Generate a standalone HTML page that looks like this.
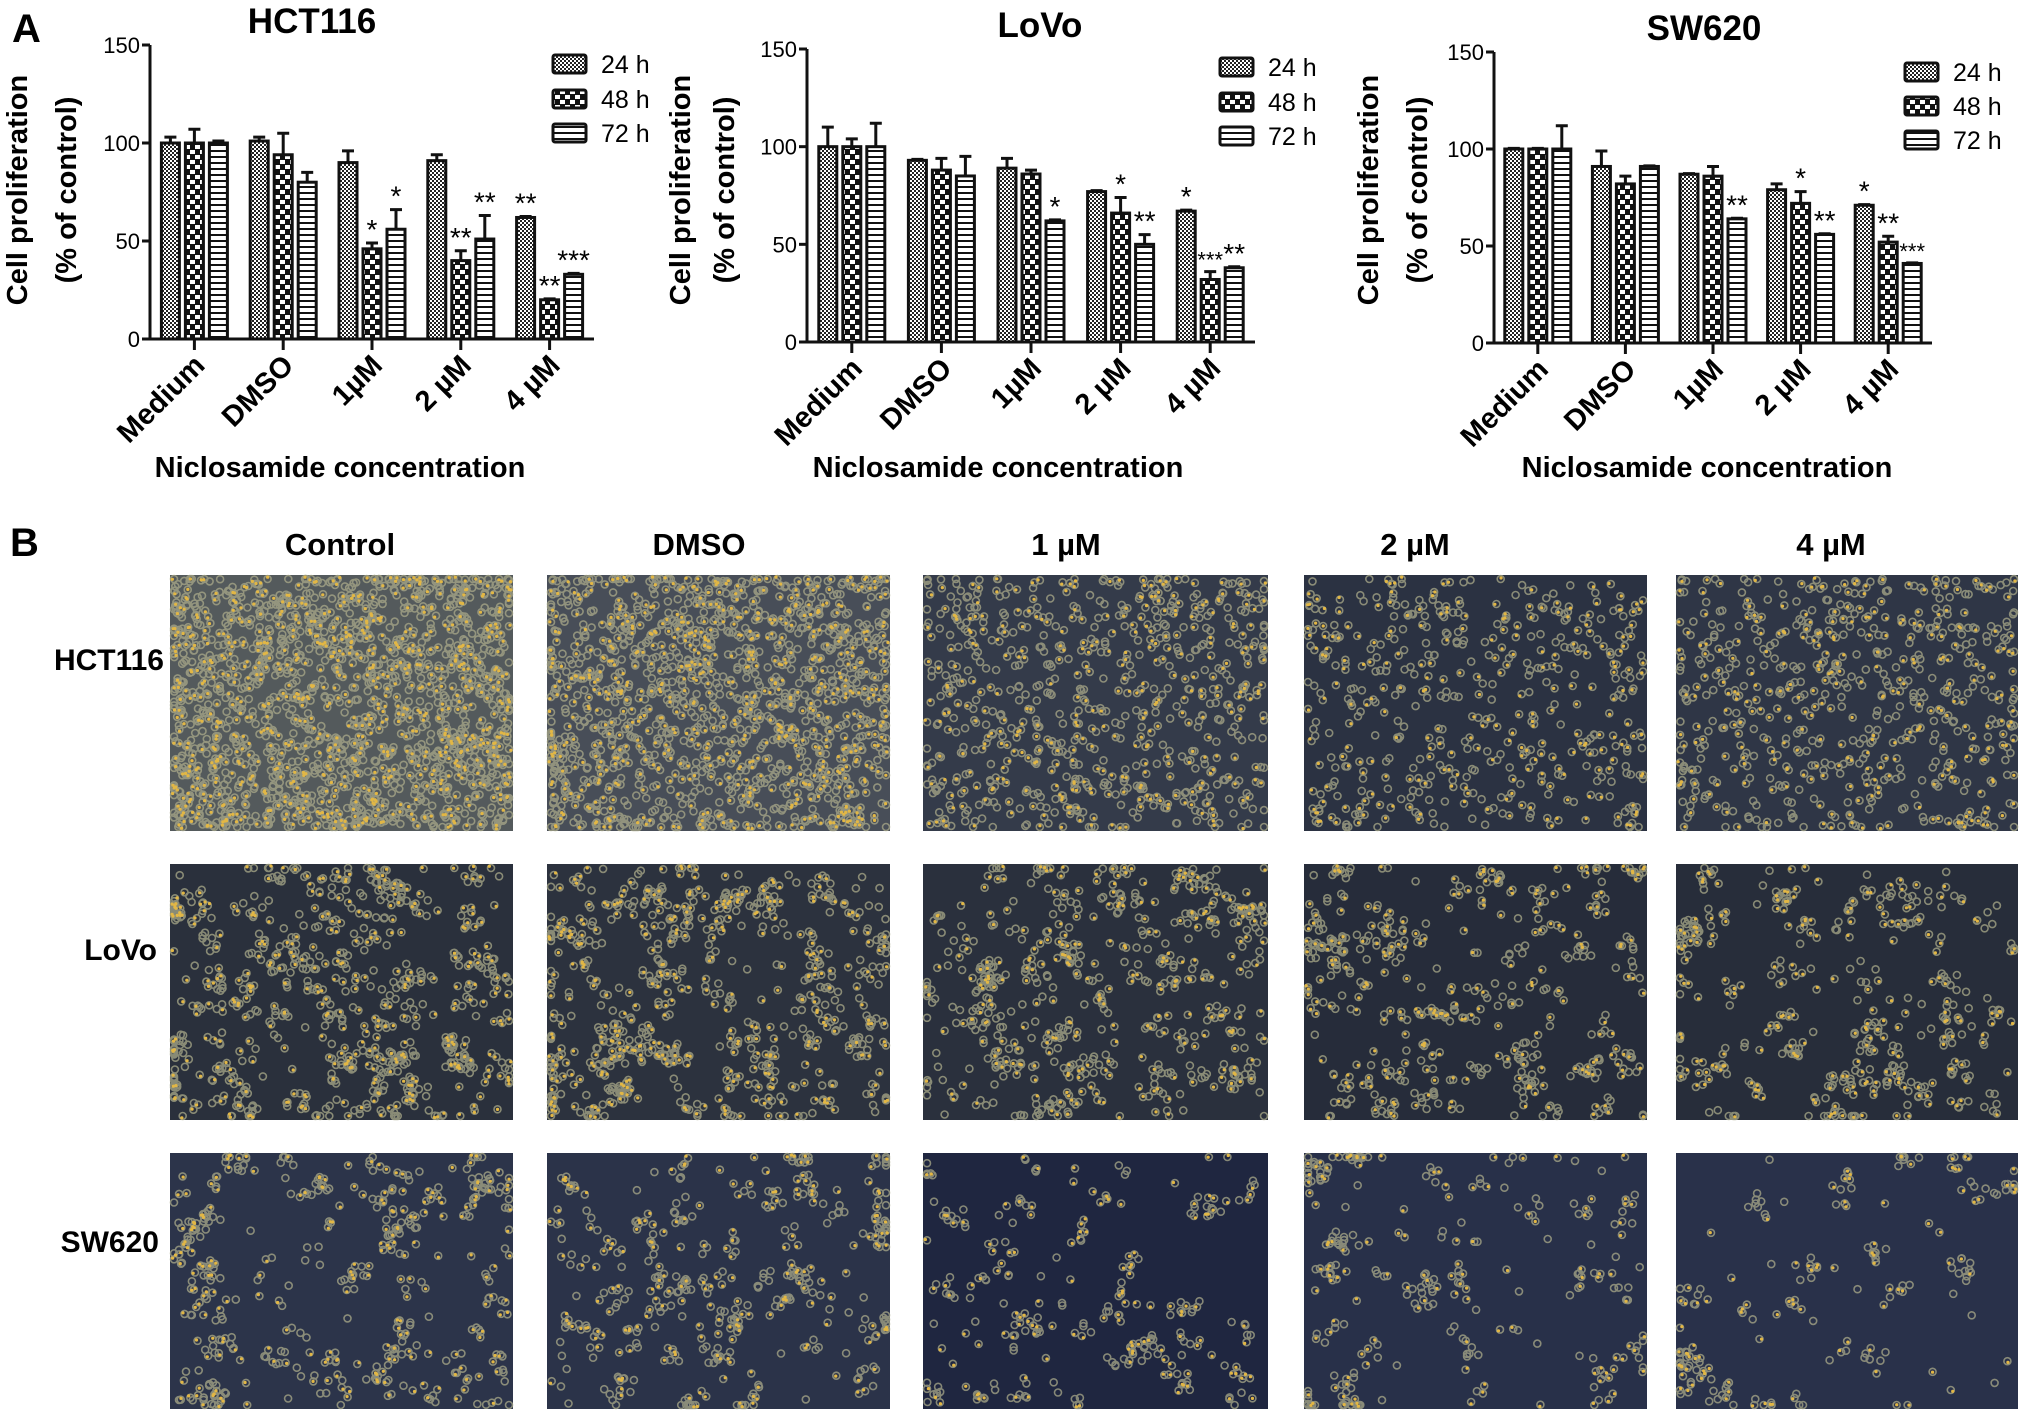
<!DOCTYPE html>
<html><head><meta charset="utf-8"><title>Niclosamide proliferation</title>
<style>
html,body{margin:0;padding:0;background:#fff;}
svg{display:block;font-family:"Liberation Sans",Arial,sans-serif;}
</style></head>
<body>
<svg id="fig" width="2031" height="1421" viewBox="0 0 2031 1421" xmlns="http://www.w3.org/2000/svg">
<defs>
<pattern id="p24" width="4" height="4" patternUnits="userSpaceOnUse"><rect width="4" height="4" fill="#fff"/><rect width="2" height="2" fill="#222"/><rect x="2" y="2" width="2" height="2" fill="#222"/></pattern>
<pattern id="p48" width="10" height="10" patternUnits="userSpaceOnUse"><rect width="10" height="10" fill="#111"/><rect x="0" y="0" width="5" height="4" fill="#fff"/><rect x="5" y="5" width="5" height="4" fill="#fff"/></pattern>
<pattern id="p72" width="6" height="6" patternUnits="userSpaceOnUse"><rect width="6" height="6" fill="#fff"/><rect y="0" width="6" height="2" fill="#111"/></pattern>
</defs>
<text x="12" y="42" font-size="40" font-weight="bold">A</text>
<text x="10" y="556" font-size="40" font-weight="bold">B</text>
<g id="charts"></g>
<g id="micro"></g>
</svg>
<script>
const categories = ["Medium", "DMSO", "1µM", "2 µM", "4 µM"];
const seriesNames = ["24 h", "48 h", "72 h"];
const tickValues = [0, 50, 100, 150];

const hct24 = [100, 101, 90, 91, 62];
const hct48 = [100, 94, 46, 40, 20];
const hct72 = [100, 80, 56, 51, 33];
const hctErr24 = [3, 2, 6, 3, 0.5];
const hctErr48 = [7, 11, 3, 5, 0.5];
const hctErr72 = [1, 5, 10, 12, 0.5];
const hctStars24 = ["", "", "", "", "**"];
const hctStars48 = ["", "", "*", "**", "**"];
const hctStars72 = ["", "", "*", "**", "***"];

const lovo24 = [100, 93, 89, 77, 67];
const lovo48 = [100, 88, 86, 66, 32];
const lovo72 = [100, 85, 62, 50, 38];
const lovoErr24 = [10, 0.5, 5, 0.5, 0.5];
const lovoErr48 = [4, 6, 2, 8, 4];
const lovoErr72 = [12, 10, 0.5, 5, 0.5];
const lovoStars24 = ["", "", "", "", "*"];
const lovoStars48 = ["", "", "", "*", "***"];
const lovoStars72 = ["", "", "*", "**", "**"];

const sw24 = [100, 91, 87, 79, 71];
const sw48 = [100, 82, 86, 72, 52];
const sw72 = [100, 91, 64, 56, 41];
const swErr24 = [0.3, 8, 0.3, 3, 0.3];
const swErr48 = [0.3, 4, 5, 6, 3];
const swErr72 = [12, 0.3, 0.3, 0.3, 0.3];
const swStars24 = ["", "", "", "", "*"];
const swStars48 = ["", "", "", "*", "**"];
const swStars72 = ["", "", "**", "**", "***"];

const NS = "http://www.w3.org/2000/svg";
function mk(tag, attrs, parent, txt) {
  const e = document.createElementNS(NS, tag);
  for (const k in attrs) e.setAttribute(k, attrs[k]);
  if (txt !== undefined) e.textContent = txt;
  parent.appendChild(e);
  return e;
}

const charts = [
  {key:"hct116", title:"HCT116", x0:150, x1:594, y0:339, yTop:45, titleX:312, yl1:27, yl2:76, legX:553, legY:[55,90,124],
   vals:[hct24,hct48,hct72], errs:[hctErr24,hctErr48,hctErr72], stars:[hctStars24,hctStars48,hctStars72], xtX:340},
  {key:"lovo", title:"LoVo", x0:807, x1:1255, y0:342, yTop:49, titleX:1040, yl1:690, yl2:734, legX:1220, legY:[58,93,127],
   vals:[lovo24,lovo48,lovo72], errs:[lovoErr24,lovoErr48,lovoErr72], stars:[lovoStars24,lovoStars48,lovoStars72], xtX:998},
  {key:"sw620", title:"SW620", x0:1494, x1:1932, y0:343, yTop:52, titleX:1704, yl1:1378, yl2:1427, legX:1905, legY:[63,97,131],
   vals:[sw24,sw48,sw72], errs:[swErr24,swErr48,swErr72], stars:[swStars24,swStars48,swStars72], xtX:1707}
];
const fills = ["url(#p24)", "url(#p48)", "url(#p72)"];
const root = document.getElementById("charts");

charts.forEach(c => {
  const g = mk("g", {}, root);
  
  
  const yScale = v => c.y0 - (v / 150) * (c.y0 - c.yTop);
  const band = (c.x1 - c.x0) / categories.length;
  const xCenter = i => c.x0 + band * (i + 0.5);
  const bw = 18, off = 24;

  const t = mk("text", {x:c.titleX, y:c.yTop - 12, "text-anchor":"middle", "font-size":35, "font-weight":"bold"}, g, c.title);
  
  

  const yl = mk("text", {transform:`translate(${c.yl1},190) rotate(-90)`, "text-anchor":"middle", "font-size":29, "font-weight":"bold"}, g, "Cell proliferation");
  
  
  const yl2 = mk("text", {transform:`translate(${c.yl2},190) rotate(-90)`, "text-anchor":"middle", "font-size":29, "font-weight":"bold"}, g, "(% of control)");
  
  

  c.vals.forEach((arr, s) => {
    arr.forEach((v, i) => {
      const cx = xCenter(i) + (s - 1) * off;
      const top = yScale(v);
      const eTop = yScale(v + c.errs[s][i]);
      const eb = mk("path", {d:`M${cx} ${top} V${eTop} M${cx-6} ${eTop} H${cx+6}`, stroke:"#111", "stroke-width":3, fill:"none"}, g);
      
      
      const r = mk("rect", {x:cx - bw/2, y:top, width:bw, height:c.y0 - top, fill:fills[s], stroke:"#111", "stroke-width":3}, g);
      
      
      const st = c.stars[s][i];
      if (st) {
        const small = (st === "***" && c.key !== "hct116");
        const sx = mk("text", {x:cx, y:eTop - 4, "text-anchor":"middle", "font-size": small ? 22 : 28}, g, st);
        
        
      }
    });
  });

  const ax = mk("path", {d:`M${c.x0} ${c.yTop} V${c.y0} H${c.x1}`, stroke:"#111", "stroke-width":3, fill:"none"}, g);
  
  
  tickValues.forEach(v => {
    const y = yScale(v);
    const tk = mk("line", {x1:c.x0 - 8, x2:c.x0, y1:y, y2:y, stroke:"#111", "stroke-width":3}, g);
    
    
    const tl = mk("text", {x:c.x0 - 10, y:y + 8, "text-anchor":"end", "font-size":22}, g, String(v));
    
    
  });
  categories.forEach((cat, i) => {
    const x = xCenter(i);
    const tk = mk("line", {x1:x, x2:x, y1:c.y0, y2:c.y0 + 11, stroke:"#111", "stroke-width":3}, g);
    
    
    const tl = mk("text", {transform:`translate(${x + 12},${c.y0 + 28}) rotate(-45)`, "text-anchor":"end", "font-size":29, "font-weight":"bold"}, g, cat);
    
    
  });
  const xt = mk("text", {x:c.xtX, y:477, "text-anchor":"middle", "font-size":29, "font-weight":"bold"}, g, "Niclosamide concentration");
  
  

  seriesNames.forEach((nm, s) => {
    const y = c.legY[s];
    const lb = mk("rect", {x:c.legX, y:y, width:33, height:18, fill:fills[s], stroke:"#111", "stroke-width":3, rx:2}, g);
    
    
    const lt = mk("text", {x:c.legX + 48, y:y + 18, "font-size":25}, g, nm);
    
    
  });
});

const colNames = ["Control", "DMSO", "1 µM", "2 µM", "4 µM"];
const colCenters = [340, 699, 1066, 1415, 1831];
const colX = [[170,513],[547,890],[923,1268],[1304,1647],[1676,2018]];
const rowNames = ["HCT116", "LoVo", "SW620"];
const rowY = [[575,831],[864,1120],[1153,1409]];
const rowLabelX = [164, 157, 159];
const rowLabelY = [670, 960, 1252];
const micro = document.getElementById("micro");
colNames.forEach((n, i) => {
  const t = mk("text", {x:colCenters[i], y:555, "text-anchor":"middle", "font-size":31, "font-weight":"bold"}, micro, n);
  
  
});
rowNames.forEach((n, r) => {
  const t = mk("text", {x:rowLabelX[r], y:rowLabelY[r], "text-anchor":"end", "font-size":30, "font-weight":"bold"}, micro, n);
  
  
});
let seed = 12345;
function rnd() { seed = (seed * 1103515245 + 12345) % 2147483648; return seed / 2147483648; }
const bgs = [["#545a5c","#484e58","#343b4a","#2b3242","#2f3646"],
             ["#2a303c","#2c323e","#2a303d","#262c3a","#272d3a"],
             ["#2c344a","#2b3349","#1f2640","#283049","#29314a"]];
const counts = [[1700,1400,700,480,600],[700,680,560,450,400],[420,400,260,260,180]];
const clustered = [false, true, true];
rowY.forEach((ry, r) => {
  colX.forEach((cx, c) => {
    const g = mk("g", {}, micro);
    
    
    const w = cx[1] - cx[0], h = ry[1] - ry[0];
    mk("rect", {x:cx[0], y:ry[0], width:w, height:h, fill:bgs[r][c]}, g);
    const n = counts[r][c];
    let centers = [];
    if (clustered[r]) { for (let k = 0; k < n / 6; k++) centers.push([cx[0] + rnd() * w, ry[0] + rnd() * h]); }
    let cells = "", nuc = "";
    for (let k = 0; k < n; k++) {
      let px, py;
      if (clustered[r] && rnd() < 0.8) {
        const cc = centers[Math.floor(rnd() * centers.length)];
        px = cc[0] + (rnd() - 0.5) * 22; py = cc[1] + (rnd() - 0.5) * 22;
      } else { px = cx[0] + rnd() * w; py = ry[0] + rnd() * h; }
      px = Math.min(cx[1] - 4, Math.max(cx[0] + 4, px)); py = Math.min(ry[1] - 4, Math.max(ry[0] + 4, py));
      cells += `M${(px-3.5).toFixed(1)} ${py.toFixed(1)}a3.5 3.5 0 1 0 7 0a3.5 3.5 0 1 0 -7 0`;
      if (rnd() < 0.5) nuc += `M${(px+rnd()*4-2).toFixed(1)} ${(py+rnd()*4-2).toFixed(1)}h0.1`;
    }
    mk("path", {d:cells, fill:"none", stroke:"#a9a98a", "stroke-width":1.6, "stroke-opacity":0.75}, g);
    mk("path", {d:nuc, stroke:"#e2b745", "stroke-width":3.2, "stroke-linecap":"round"}, g);
  });
});
</script>
</body></html>
